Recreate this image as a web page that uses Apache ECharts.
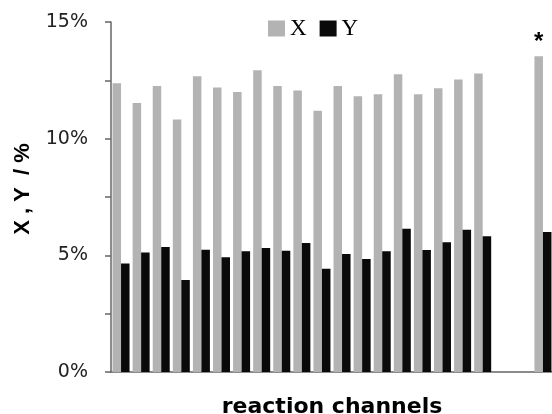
<!DOCTYPE html>
<html><head><meta charset="utf-8">
<script src="https://cdn.jsdelivr.net/npm/echarts@6/dist/echarts.min.js"></script>
<style>html,body{margin:0;padding:0;background:#fff}#c{width:552px;height:414px}</style>
</head><body><div id="c"></div>
<script>
const categories = ['1','2','3','4','5','6','7','8','9','10','11','12','13','14','15','16','17','18','19','gapA','gapB','ref'];
const xValues = [12.37,11.53,12.26,10.82,12.67,12.19,12.0,12.93,12.26,12.06,11.2,12.26,11.82,11.9,12.76,11.9,12.16,12.54,12.79,null,null,13.53];
const yValues = [4.65,5.12,5.36,3.94,5.24,4.92,5.17,5.31,5.2,5.53,4.43,5.06,4.84,5.17,6.14,5.23,5.56,6.1,5.82,null,null,6.0];
const markedCategory = 'ref';
const yTicks = [0,5,10,15];

const chart = echarts.init(document.getElementById('c'), null, {renderer:'canvas'});
const xData = xValues.map((v,i)=> categories[i]===markedCategory ?
  {value:v, label:{show:true, formatter:'*', position:'top', distance:2, fontSize:24, fontWeight:'bold', color:'#000', fontFamily:'Liberation Sans'}} : v);
chart.setOption({
  animation:false,
  grid:{left:111, top:22, bottom:42, width:442, containLabel:false, outerBoundsMode:'none'},
  legend:{
    data:['X','Y'], left:268, top:16, padding:[1,0,0,0], itemWidth:17, itemHeight:16, itemGap:13,
    textStyle:{fontFamily:'Liberation Serif', fontSize:23, color:'#000', padding:[2,0,0,0]},
    icon:'rect'
  },
  xAxis:{
    type:'category', data:categories,
    axisLine:{lineStyle:{color:'#666', width:1.5}},
    axisTick:{show:false}, axisLabel:{show:false},
    name:'reaction channels', nameLocation:'middle', nameGap:24,
    nameTextStyle:{fontFamily:'DejaVu Sans', fontWeight:'bold', fontSize:22, color:'#000'}
  },
  yAxis:{
    type:'value', min:yTicks[0], max:yTicks[yTicks.length-1], interval:5,
    axisLine:{show:true, lineStyle:{color:'#666', width:1.5}},
    axisTick:{show:true, length:6, lineStyle:{color:'#666', width:1.5}},
    minorTick:{show:true, splitNumber:2, length:6, lineStyle:{color:'#666', width:1.5}},
    splitLine:{show:false},
    axisLabel:{formatter:'{value}%', fontFamily:'DejaVu Sans', fontSize:19, color:'#222', margin:23},
    name:'X , Y  / %', nameLocation:'middle', nameGap:77,
    nameTextStyle:{fontFamily:'Liberation Sans', fontWeight:'bold', fontSize:22, color:'#000', padding:[0,0,0,16]}
  },
  series:[
    {name:'X', type:'bar', data:xData, barWidth:8.5, barGap:'0%', itemStyle:{color:'#b3b3b3'}},
    {name:'Y', type:'bar', data:yValues, barWidth:8.5, barGap:'0%', itemStyle:{color:'#0a0a0a'}}
  ]
});
</script></body></html>
